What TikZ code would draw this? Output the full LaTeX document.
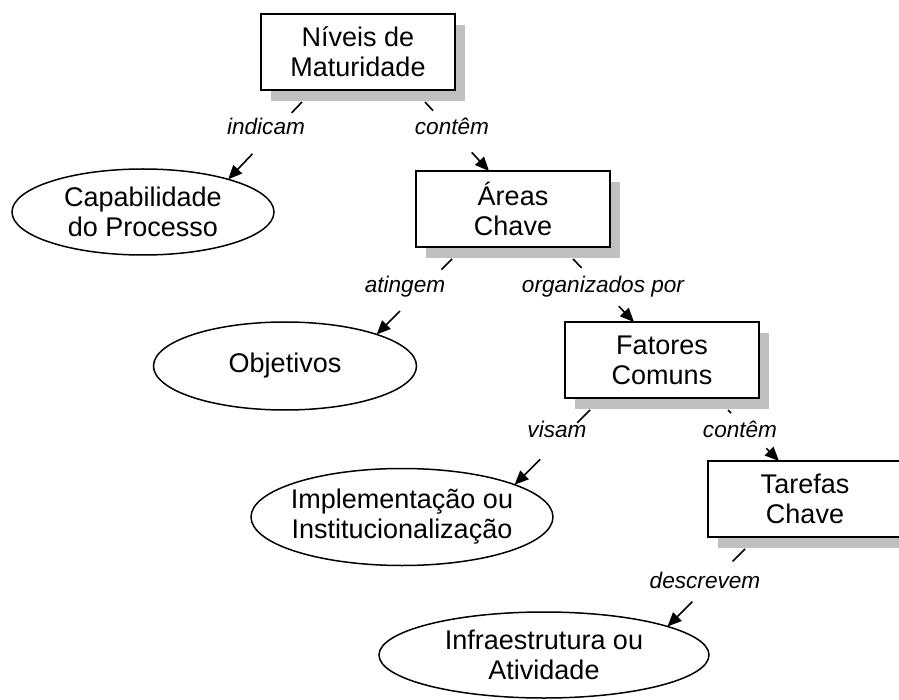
\documentclass[tikz,border=0pt]{standalone}
\usepackage{fontspec}
\setmainfont{Liberation Sans}
\usetikzlibrary{shapes.geometric,shadows,arrows.meta,calc}
\definecolor{shadowgray}{RGB}{192,192,192}
\tikzset{
  concept/.style={draw=black, line width=1.8pt, fill=white, minimum width=194pt, minimum height=76pt,
    inner sep=0pt, outer sep=0pt, align=center, font=\fontsize{27}{30}\selectfont,
    drop shadow={shadow xshift=10pt, shadow yshift=-11pt, fill=shadowgray, opacity=1}},
  oval/.style={ellipse, draw=black, line width=1.5pt, fill=white, inner sep=0pt, outer sep=0pt,
    align=center, font=\fontsize{27}{30}\selectfont},
  linkphrase/.style={font=\fontsize{22.6}{26}\selectfont\itshape, anchor=base, inner sep=0pt},
  conn/.style={line width=1.6pt},
  connarrow/.style={line width=1.6pt, -{Triangle[length=14pt,width=12pt]}},
}
\begin{document}
\begin{tikzpicture}[x=1pt,y=-1pt]
\useasboundingbox (0,0) rectangle (899,700);

% concepts (boxes)
\node[concept] (n1) at (358,52) {Níveis de\\Maturidade};
\node[concept] (n2) at (513,209) {Áreas\\Chave};
\node[concept] (n3) at (662,360) {Fatores\\Comuns};
\node[concept] (n4) at (805,499) {Tarefas\\Chave};

% concepts (ellipses)
\node[oval, minimum width=262pt, minimum height=86pt] (c1) at (143,212) {Capabilidade\\do Processo};
\node[oval, minimum width=263pt, minimum height=88pt] (c2) at (285,366) {Objetivos};
\node[oval, inner xsep=-6pt, minimum width=302pt, minimum height=97pt] (c3) at (402,517) {Implementação ou\\Institucionalização};
\node[oval, minimum width=330pt, minimum height=86pt] (c4) at (544,655) {Infraestrutura ou\\Atividade};

% linking phrases
\node[linkphrase] (l1) at (266,135) {indicam};
\node[linkphrase] (l2) at (452,135) {contêm};
\node[linkphrase] (l3) at (405,293) {atingem};
\node[linkphrase] (l4) at (603,293) {organizados por};
\node[linkphrase] (l5) at (557,437) {visam};
\node[linkphrase] (l6) at (740,437) {contêm};
\node[linkphrase] (l7) at (705,588) {descrevem};

% connector start points (below the shadows)
\coordinate (a1) at ([xshift=-56pt,yshift=-12pt]n1.south);
\coordinate (a2) at ([xshift=67pt,yshift=-12pt]n1.south);
\coordinate (a3) at ([xshift=-61pt,yshift=-12pt]n2.south);
\coordinate (a4) at ([xshift=60pt,yshift=-12pt]n2.south);
\coordinate (a5) at ([xshift=-72pt,yshift=-12pt]n3.south);
\coordinate (a6) at ([xshift=66pt,yshift=-12pt]n3.south);
\coordinate (a7) at ([xshift=-60pt,yshift=-12pt]n4.south);
% connector end points
\coordinate (b1) at (c1.21);
\coordinate (b2) at ([xshift=-24pt]n2.north);
\coordinate (b3) at (c2.19);
\coordinate (b4) at ([xshift=-28pt]n3.north);
\coordinate (b5) at (c3.16);
\coordinate (b6) at ([xshift=-26pt]n4.north);
\coordinate (b7) at (c4.13);

% connectors, interrupted by the linking phrases
\draw[conn] (a1) -- ($(a1)!0.14!(b1)$);
\draw[connarrow] ($(a1)!0.67!(b1)$) -- (b1);
\draw[conn] (a2) -- ($(a2)!0.125!(b2)$);
\draw[connarrow] ($(a2)!0.73!(b2)$) -- (b2);
\draw[conn] (a3) -- ($(a3)!0.14!(b3)$);
\draw[connarrow] ($(a3)!0.69!(b3)$) -- (b3);
\draw[conn] (a4) -- ($(a4)!0.14!(b4)$);
\draw[connarrow] ($(a4)!0.75!(b4)$) -- (b4);
\draw[conn] (a5) -- ($(a5)!0.17!(b5)$);
\draw[connarrow] ($(a5)!0.66!(b5)$) -- (b5);
\draw[conn] (a6) -- ($(a6)!0.06!(b6)$);
\draw[connarrow] ($(a6)!0.75!(b6)$) -- (b6);
\draw[conn] (a7) -- ($(a7)!0.16!(b7)$);
\draw[connarrow] ($(a7)!0.68!(b7)$) -- (b7);
\end{tikzpicture}
\end{document}
